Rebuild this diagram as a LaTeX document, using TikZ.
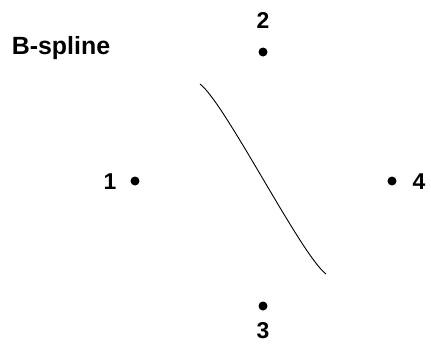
\documentclass[tikz,border=0pt]{standalone}
\usepackage{fontspec}
\setmainfont{Liberation Sans}
\begin{document}
\begin{tikzpicture}[x=1bp,y=-1bp,
  dot/.style={circle,fill=black,inner sep=0pt,minimum size=9bp},
  lbl/.style={font=\fontsize{23}{25}\selectfont\bfseries,inner sep=0pt},
  ttl/.style={font=\fontsize{25}{27}\selectfont\bfseries,inner sep=0pt}]
\useasboundingbox (0,0) rectangle (431,354);
\node[ttl] (title) at (61,48) {B-spline};
\node[dot] (p1) at (135,181) {};
\node[dot] (p2) at (263,52) {};
\node[dot] (p3) at (263,306) {};
\node[dot] (p4) at (392,181) {};
\node[lbl] (l1) at (110,182) {1};
\node[lbl] (l2) at (263,20) {2};
\node[lbl] (l3) at (263,331) {3};
\node[lbl] (l4) at (419,182) {4};
\coordinate (s) at (200,84);
\coordinate (e) at (326,274);
\draw[line width=0.9bp] (s) .. controls (225,103) and (301,255) .. (e);
\end{tikzpicture}
\end{document}
